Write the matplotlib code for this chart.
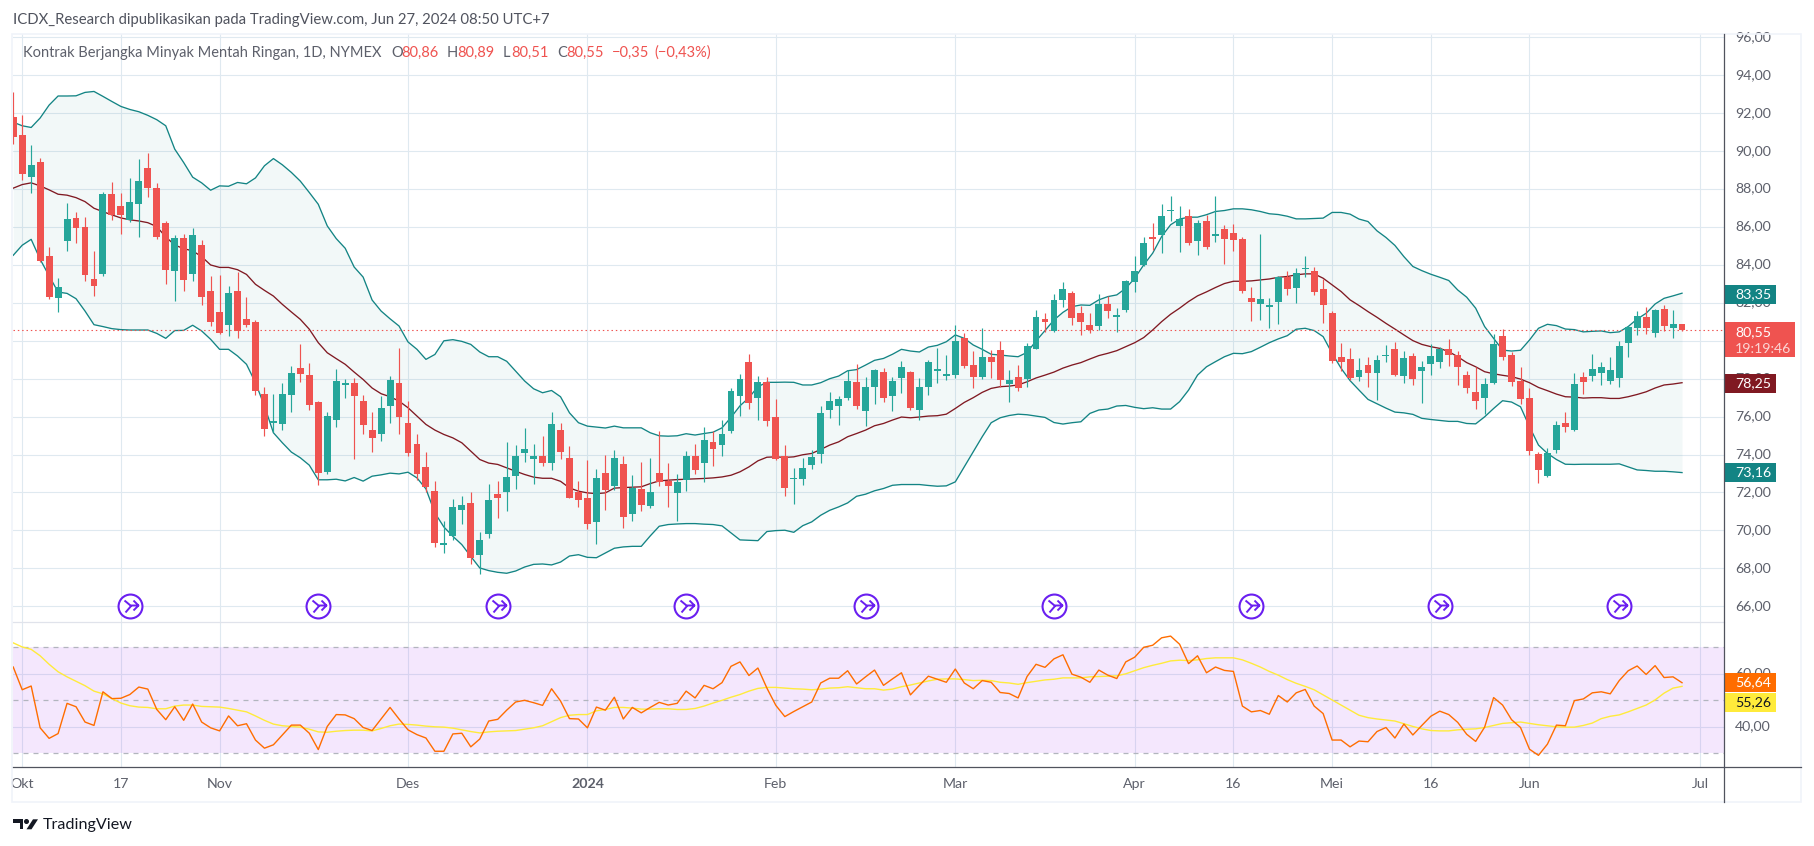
"""Light crude daily chart with Bollinger bands and RSI, TradingView look."""

import matplotlib
matplotlib.use("Agg")  # headless rendering
import matplotlib.pyplot as plt
import numpy as np
from matplotlib.patches import Polygon, Rectangle
from matplotlib.path import Path
from matplotlib.transforms import ScaledTranslation

W, H = 1814, 846
FONT = "Lato"

# ---------------------------------------------------------------------------
# Data, first bar is the one just before Okt
# ---------------------------------------------------------------------------

opens = [
    91.8, 90.85, 88.65, 89.42, 84.46, 82.26, 85.27, 86.46, 85.99, 83.24,
    83.52, 87.73, 87.1, 86.36, 87.2, 89.1, 88.05, 86.2, 83.66, 85.41,
    83.5, 85.04, 82.61, 81.5, 80.82, 82.61, 81.13, 80.98, 77.17, 75.66,
    75.59, 77.14, 78.55, 78.18, 76.75, 73.1, 75.8, 77.65, 77.8, 76.8,
    75.32, 75.06, 76.54, 77.75, 75.64, 74.58, 73.32, 72.1, 69.25, 69.73,
    71.1, 71.47, 68.72, 69.83, 71.94, 72.0, 72.89, 74.06, 73.79, 73.95,
    73.53, 75.32, 73.84, 72.0, 71.73, 70.46, 73.02, 72.33, 73.49, 70.85,
    72.17, 71.27, 73.02, 72.61, 71.96, 72.65, 73.92, 73.55, 74.66, 74.5,
    75.24, 77.09, 78.88, 76.98, 77.82, 75.98, 73.92, 72.7, 72.7, 73.44,
    74.02, 76.35, 76.56, 76.98, 77.82, 76.29, 77.56, 78.35, 77.09, 78.04,
    78.35, 76.35, 77.56, 78.41, 78.14, 78.19, 80.15, 78.72, 78.09, 79.14,
    79.51, 77.72, 78.09, 77.98, 79.57, 81.15, 80.52, 82.16, 82.53, 81.47,
    80.84, 80.78, 81.94, 81.27, 81.63, 83.11, 84.0, 85.45, 85.59, 86.86,
    86.06, 86.59, 85.27, 86.33, 85.54, 85.91, 85.69, 85.38, 82.26, 81.94,
    81.79, 82.05, 83.37, 82.79, 83.78, 83.69, 82.74, 81.47, 79.14, 79.04,
    78.09, 78.72, 78.3, 79.2, 79.57, 78.14, 79.2, 78.41, 78.78, 78.88,
    79.57, 79.25, 78.19, 77.3, 76.98, 77.77, 80.25, 79.25, 77.88, 76.98,
    74.02, 72.86, 74.23, 75.66, 75.29, 78.09, 78.14, 78.3, 77.88, 78.04,
    79.88, 80.68, 81.26, 80.41, 81.68, 80.68, 80.86,
]
closes = [
    90.76, 88.81, 89.26, 84.21, 82.31, 82.82, 86.41, 85.95, 83.47, 82.89,
    87.73, 86.62, 86.62, 87.31, 88.42, 88.05, 85.46, 83.72, 85.41, 83.19,
    85.57, 82.31, 80.99, 80.39, 82.5, 80.5, 80.82, 77.35, 75.34, 75.75,
    77.17, 78.28, 78.23, 76.64, 73.05, 76.06, 77.86, 77.8, 77.07, 75.54,
    74.85, 76.43, 77.91, 75.96, 74.06, 73.0, 72.31, 69.36, 69.36, 71.26,
    71.36, 68.56, 69.51, 71.63, 71.73, 72.84, 73.95, 74.27, 73.9, 73.53,
    75.59, 74.11, 71.73, 71.63, 70.36, 72.74, 72.12, 73.81, 70.69, 72.23,
    71.33, 72.01, 72.56, 72.33, 72.54, 73.92, 73.18, 74.76, 74.29, 75.08,
    77.35, 77.98, 76.72, 77.82, 75.76, 73.76, 72.23, 72.78, 73.28, 73.86,
    76.19, 76.82, 76.93, 77.88, 76.56, 77.56, 78.46, 76.98, 77.88, 78.62,
    76.45, 77.56, 78.88, 78.51, 78.25, 79.99, 78.67, 78.09, 79.14, 78.88,
    77.93, 77.93, 77.51, 79.73, 81.26, 80.99, 82.16, 82.74, 81.2, 81.0,
    80.57, 81.94, 81.57, 81.36, 83.16, 83.69, 85.17, 85.36, 86.59, 86.91,
    86.43, 85.17, 86.22, 84.95, 85.64, 85.38, 85.32, 82.63, 82.05, 82.21,
    81.89, 83.37, 82.74, 83.58, 83.85, 82.58, 81.89, 78.93, 78.88, 78.04,
    78.46, 78.3, 78.99, 79.27, 78.19, 79.09, 77.98, 78.62, 79.2, 79.57,
    79.25, 78.62, 77.51, 76.82, 77.72, 79.83, 79.14, 77.82, 76.93, 74.18,
    73.18, 74.07, 75.55, 75.45, 77.72, 77.82, 78.51, 78.62, 78.46, 79.73,
    80.73, 81.31, 80.68, 81.63, 80.78, 80.89, 80.55,
]
highs = [
    93.12, 91.9, 90.32, 89.63, 84.93, 83.29, 87.26, 86.78, 86.52, 84.76,
    87.84, 88.36, 87.78, 88.58, 89.58, 89.9, 88.31, 86.3, 85.57, 85.62,
    85.93, 85.3, 83.4, 83.45, 82.87, 83.61, 82.29, 81.08, 77.54, 77.17,
    77.75, 78.65, 79.81, 78.81, 76.8, 76.22, 78.49, 77.96, 78.02, 77.12,
    76.27, 77.07, 78.12, 79.6, 76.8, 75.06, 74.16, 72.63, 70.52, 71.68,
    71.84, 72.0, 69.94, 72.47, 72.58, 74.64, 74.48, 75.38, 74.58, 75.0,
    76.22, 75.69, 74.43, 72.63, 73.69, 73.26, 73.97, 74.23, 73.92, 72.91,
    73.6, 73.81, 75.24, 73.55, 72.97, 74.18, 74.58, 75.45, 75.24, 75.82,
    77.51, 78.25, 79.3, 78.14, 78.09, 76.93, 74.48, 73.28, 73.81, 74.23,
    76.56, 77.3, 77.09, 78.46, 78.78, 78.09, 78.51, 78.56, 78.09, 78.93,
    78.41, 78.04, 78.99, 79.62, 79.25, 80.84, 80.41, 79.46, 80.68, 79.51,
    79.99, 78.46, 78.72, 79.88, 81.63, 81.47, 82.47, 83.11, 82.63, 81.84,
    81.47, 82.47, 82.37, 81.73, 83.21, 84.48, 85.48, 86.22, 87.23, 87.65,
    87.12, 86.96, 86.38, 86.65, 87.65, 86.12, 86.17, 85.48, 82.84, 85.64,
    82.26, 83.42, 83.69, 83.85, 84.48, 83.9, 83.26, 81.57, 79.88, 79.62,
    79.09, 79.14, 79.25, 79.78, 79.94, 79.46, 79.36, 78.93, 79.83, 79.67,
    80.1, 79.46, 78.41, 78.62, 78.04, 80.36, 80.62, 79.41, 78.62, 77.51,
    74.13, 74.34, 75.76, 76.24, 78.3, 78.35, 79.3, 78.88, 79.14, 79.99,
    80.78, 81.57, 81.79, 81.68, 81.89, 81.63, 80.89,
]
lows = [
    90.37, 88.49, 87.8, 84.15, 82.2, 81.52, 84.74, 85.16, 83.15, 82.36,
    83.42, 86.36, 85.62, 86.25, 85.46, 87.57, 85.35, 82.98, 82.08, 82.61,
    83.14, 81.88, 80.78, 80.34, 80.24, 80.13, 80.71, 77.14, 74.97, 75.18,
    75.32, 76.22, 77.81, 76.33, 72.42, 72.97, 75.43, 76.96, 73.79, 75.11,
    74.11, 74.69, 75.69, 75.06, 73.95, 72.68, 72.05, 69.14, 68.83, 69.51,
    70.36, 68.25, 67.72, 69.62, 70.68, 71.0, 72.16, 73.63, 72.47, 73.42,
    73.16, 73.79, 71.7, 71.26, 70.1, 69.3, 71.06, 72.12, 70.11, 70.48,
    71.01, 71.17, 72.33, 71.22, 70.48, 72.07, 72.97, 72.54, 73.39, 73.92,
    75.13, 76.03, 76.4, 75.82, 75.5, 73.7, 71.8, 71.38, 72.38, 73.23,
    73.55, 75.92, 75.55, 76.87, 76.4, 75.5, 76.66, 76.77, 76.29, 77.24,
    76.35, 75.82, 77.14, 77.77, 77.93, 78.04, 78.56, 77.51, 77.98, 78.04,
    77.56, 76.77, 77.35, 77.56, 79.57, 80.47, 80.47, 81.79, 80.84, 80.31,
    80.41, 80.57, 81.2, 80.47, 81.52, 82.58, 83.95, 84.8, 84.64, 86.33,
    84.69, 85.06, 84.53, 84.85, 85.22, 84.06, 84.74, 82.53, 81.05, 81.1,
    80.68, 80.89, 82.42, 82.0, 83.37, 82.42, 80.94, 78.83, 78.41, 77.93,
    77.88, 77.56, 76.87, 78.88, 78.14, 77.77, 77.67, 76.72, 78.19, 78.56,
    78.67, 77.67, 77.24, 76.4, 76.13, 77.72, 78.99, 77.61, 76.66, 73.97,
    72.49, 72.81, 74.07, 75.18, 75.24, 77.19, 77.88, 77.67, 77.72, 77.56,
    79.14, 80.31, 80.36, 80.2, 80.52, 80.15, 80.51,
]
bb_upper = [
    91.53, 91.34, 91.25, 91.75, 92.43, 92.91, 92.91, 92.92, 93.1, 93.15,
    92.89, 92.62, 92.36, 92.2, 92.08, 91.89, 91.66, 91.34, 90.11, 89.4,
    88.63, 88.33, 87.94, 88.17, 88.15, 88.35, 88.28, 88.59, 89.23, 89.61,
    89.28, 88.88, 88.42, 87.82, 87.2, 86.06, 85.39, 84.88, 83.89, 83.36,
    82.15, 81.57, 81.16, 80.78, 79.94, 79.55, 79.02, 79.28, 80.0, 80.06,
    79.97, 79.81, 79.41, 79.16, 79.16, 78.92, 78.4, 77.88, 77.47, 77.26,
    77.38, 77.05, 76.2, 75.68, 75.5, 75.45, 75.4, 75.5, 75.41, 75.41,
    75.41, 75.15, 74.99, 74.97, 74.99, 75.1, 75.03, 75.11, 75.18, 75.41,
    75.96, 76.57, 77.0, 77.58, 77.81, 77.81, 77.82, 77.81, 77.67, 77.67,
    77.79, 78.0, 78.14, 78.42, 78.48, 78.72, 78.97, 79.07, 79.29, 79.55,
    79.46, 79.41, 79.67, 79.76, 79.95, 80.31, 80.13, 79.78, 79.55, 79.29,
    79.25, 79.2, 79.16, 79.39, 79.99, 80.54, 81.1, 81.5, 81.8, 81.89,
    81.87, 82.16, 82.33, 82.42, 82.77, 83.3, 84.0, 84.62, 85.5, 86.12,
    86.42, 86.52, 86.52, 86.65, 86.82, 86.87, 86.96, 86.96, 86.91, 86.82,
    86.7, 86.66, 86.57, 86.43, 86.43, 86.45, 86.47, 86.77, 86.77, 86.68,
    86.42, 86.29, 85.8, 85.45, 85.03, 84.44, 83.92, 83.7, 83.51, 83.35,
    83.18, 82.68, 82.3, 81.72, 80.75, 80.13, 79.51, 79.46, 79.5, 80.04,
    80.66, 80.87, 80.8, 80.62, 80.59, 80.47, 80.5, 80.52, 80.43, 80.47,
    80.75, 81.15, 81.45, 81.94, 82.24, 82.37, 82.51,
]
bb_basis = [
    88.05, 88.24, 88.33, 88.17, 87.96, 87.73, 87.68, 87.55, 87.34, 86.99,
    86.81, 86.64, 86.48, 86.38, 86.32, 86.23, 86.02, 85.48, 85.05, 84.86,
    84.74, 84.44, 84.0, 83.87, 83.87, 83.75, 83.5, 82.98, 82.66, 82.36,
    81.92, 81.52, 81.13, 80.61, 79.9, 79.37, 79.06, 78.76, 78.35, 77.96,
    77.51, 77.21, 77.05, 76.82, 76.47, 76.03, 75.59, 75.29, 75.06, 74.88,
    74.62, 74.18, 73.74, 73.55, 73.48, 73.3, 73.12, 72.95, 72.81, 72.75,
    72.75, 72.59, 72.24, 72.07, 71.98, 71.94, 71.98, 72.23, 72.26, 72.28,
    72.3, 72.47, 72.61, 72.65, 72.68, 72.7, 72.72, 72.74, 72.77, 72.82,
    72.91, 73.09, 73.35, 73.67, 73.86, 73.88, 73.85, 73.88, 73.99, 74.06,
    74.27, 74.5, 74.67, 74.94, 75.11, 75.29, 75.52, 75.64, 75.82, 75.98,
    75.94, 75.98, 76.03, 76.05, 76.13, 76.43, 76.75, 77.0, 77.28, 77.49,
    77.58, 77.61, 77.67, 77.84, 78.04, 78.19, 78.35, 78.56, 78.72, 78.85,
    79.04, 79.22, 79.34, 79.48, 79.69, 79.9, 80.17, 80.57, 81.01, 81.4,
    81.72, 82.07, 82.37, 82.58, 82.81, 83.02, 83.14, 83.14, 83.16, 83.21,
    83.26, 83.35, 83.39, 83.48, 83.53, 83.53, 83.3, 82.95, 82.6, 82.16,
    81.86, 81.54, 81.24, 80.92, 80.62, 80.31, 80.01, 79.81, 79.69, 79.6,
    79.43, 79.16, 78.85, 78.63, 78.37, 78.26, 78.18, 78.11, 77.98, 77.79,
    77.54, 77.37, 77.19, 77.05, 77.03, 76.98, 77.0, 77.0, 76.96, 76.96,
    77.05, 77.17, 77.31, 77.51, 77.67, 77.72, 77.79,
]
bb_lower = [
    84.51, 85.04, 85.35, 84.3, 83.42, 82.57, 82.5, 82.22, 81.57, 80.85,
    80.75, 80.64, 80.59, 80.57, 80.57, 80.57, 80.39, 80.13, 80.54, 80.55,
    80.82, 80.52, 80.08, 79.55, 79.55, 79.2, 78.76, 77.79, 76.56, 75.15,
    74.62, 74.13, 73.83, 73.44, 72.67, 72.67, 72.7, 72.61, 72.79, 72.6,
    72.86, 72.93, 73.02, 72.98, 73.07, 72.77, 72.19, 70.92, 70.18, 69.69,
    69.25, 68.63, 68.02, 67.88, 67.79, 67.74, 67.86, 68.07, 68.21, 68.23,
    68.18, 68.33, 68.65, 68.72, 68.58, 68.56, 68.81, 69.06, 69.13, 69.16,
    69.16, 69.71, 70.22, 70.31, 70.34, 70.36, 70.36, 70.33, 70.31, 70.24,
    69.87, 69.5, 69.48, 69.46, 69.94, 69.99, 70.01, 69.9, 70.25, 70.45,
    70.8, 71.06, 71.24, 71.45, 71.8, 71.91, 72.09, 72.21, 72.38, 72.42,
    72.42, 72.42, 72.37, 72.33, 72.35, 72.56, 73.35, 74.14, 74.94, 75.68,
    75.94, 76.06, 76.13, 76.1, 76.03, 75.96, 75.69, 75.61, 75.68, 75.73,
    76.17, 76.35, 76.4, 76.56, 76.59, 76.49, 76.42, 76.47, 76.4, 76.4,
    76.79, 77.4, 78.19, 78.63, 78.9, 79.16, 79.34, 79.32, 79.43, 79.66,
    79.9, 80.1, 80.27, 80.61, 80.66, 80.54, 80.22, 79.34, 78.55, 77.9,
    77.4, 76.91, 76.68, 76.45, 76.24, 76.2, 76.12, 75.91, 75.85, 75.8,
    75.75, 75.75, 75.64, 75.62, 75.99, 76.43, 76.84, 76.77, 76.52, 75.47,
    74.5, 74.06, 73.74, 73.49, 73.48, 73.49, 73.49, 73.49, 73.49, 73.51,
    73.35, 73.19, 73.16, 73.12, 73.12, 73.09, 73.05,
]
rsi = [
    62.56, 53.98, 55.39, 39.62, 35.64, 37.44, 48.85, 47.57, 41.8, 40.52,
    53.21, 50.64, 50.77, 52.18, 55.0, 54.23, 46.54, 42.69, 47.57, 42.44,
    48.59, 41.8, 39.62, 38.46, 44.1, 40.39, 41.16, 35.0, 31.93, 33.21,
    36.92, 40.64, 40.64, 37.57, 31.41, 40.13, 44.62, 44.49, 43.08, 39.75,
    38.59, 42.95, 47.31, 42.95, 38.85, 37.05, 35.77, 30.77, 30.77, 37.31,
    37.57, 32.44, 35.39, 42.18, 42.82, 46.28, 49.36, 50.0, 49.1, 48.08,
    54.36, 49.75, 43.08, 42.95, 39.62, 47.44, 46.28, 51.16, 42.95, 47.31,
    45.26, 47.31, 49.23, 48.21, 48.85, 53.46, 50.9, 55.64, 54.36, 56.67,
    62.82, 64.49, 59.36, 62.18, 54.62, 48.08, 43.85, 45.77, 47.57, 49.36,
    56.54, 58.33, 58.33, 61.16, 56.16, 58.85, 61.41, 55.64, 58.08, 60.39,
    52.05, 55.64, 59.1, 57.95, 56.8, 61.8, 56.54, 54.36, 57.44, 56.8,
    52.95, 52.57, 50.9, 58.98, 63.59, 62.44, 65.64, 67.18, 59.87, 58.72,
    56.8, 61.41, 59.49, 58.21, 64.49, 66.28, 70.0, 70.77, 73.59, 74.23,
    71.16, 63.85, 66.8, 60.39, 62.56, 61.28, 60.9, 47.82, 45.64, 46.15,
    44.74, 51.8, 49.36, 52.82, 54.1, 47.82, 45.0, 35.0, 35.0, 32.44,
    34.62, 34.36, 38.21, 39.74, 35.77, 41.03, 36.92, 40.51, 43.98, 45.9,
    44.62, 41.67, 37.18, 34.49, 39.87, 51.03, 48.21, 42.69, 39.74, 31.54,
    29.23, 33.46, 40.64, 40.39, 49.87, 50.51, 52.82, 53.21, 52.44, 57.44,
    61.15, 62.95, 59.75, 63.08, 58.59, 58.85, 56.64,
]
rsi_ma = [
    71.67, 70.13, 69.23, 66.8, 63.59, 60.77, 58.85, 57.18, 55.51, 53.46,
    52.44, 50.64, 48.97, 47.95, 47.44, 47.31, 46.8, 46.8, 47.82, 48.21,
    48.21, 47.69, 47.57, 47.44, 46.92, 46.28, 45.64, 44.1, 42.44, 41.03,
    40.39, 40.13, 39.87, 39.1, 38.08, 37.95, 38.33, 38.59, 38.72, 38.72,
    38.46, 39.36, 40.39, 41.03, 40.9, 40.64, 40.26, 40.0, 39.87, 39.49,
    38.85, 38.21, 37.69, 38.08, 38.33, 38.46, 38.59, 39.1, 39.62, 40.39,
    41.92, 43.46, 44.36, 44.62, 44.62, 46.03, 46.54, 47.31, 47.31, 47.05,
    46.67, 46.67, 46.8, 46.8, 46.54, 46.54, 46.92, 47.82, 48.97, 50.0,
    51.16, 52.18, 53.46, 54.49, 54.87, 54.87, 54.62, 54.36, 54.23, 53.97,
    54.23, 54.62, 54.74, 55.13, 54.74, 54.36, 54.36, 53.85, 54.23, 55.13,
    55.77, 56.54, 57.31, 57.95, 58.08, 58.08, 57.82, 57.44, 57.57, 57.44,
    56.8, 56.54, 56.03, 56.67, 57.18, 57.69, 57.95, 58.46, 58.46, 58.46,
    58.85, 58.98, 59.1, 59.23, 60.0, 61.15, 62.31, 63.21, 63.97, 64.87,
    65.13, 65.0, 65.26, 65.77, 66.03, 66.03, 66.03, 65.26, 63.97, 62.56,
    60.9, 59.49, 57.82, 56.41, 55.26, 53.97, 52.05, 50.13, 48.21, 46.28,
    44.36, 43.46, 42.95, 42.57, 42.18, 41.15, 40.13, 39.23, 38.59, 38.46,
    38.46, 38.85, 39.1, 39.23, 39.74, 40.51, 41.28, 41.54, 41.8, 41.28,
    40.77, 40.39, 40.0, 39.87, 39.87, 40.51, 41.41, 43.08, 43.97, 44.49,
    45.64, 46.93, 48.21, 50.13, 52.7, 54.6, 55.26,
]

time_ticks = [0, 11, 22, 43, 63, 84, 104, 124, 135, 146, 157, 168, 187]
time_labels = ["Okt", "17", "Nov", "Des", "2024", "Feb", "Mar", "Apr", "16",
               "Mei", "16", "Jun", "Jul"]
price_ticks = list(range(66, 98, 2))
rsi_ticks = [40, 60]
rsi_dashed = [30, 50, 70]
signal_bars = [12, 33, 53, 74, 94, 115, 137, 158, 178]
signal_price = 66.0
last_close = 80.55

GREEN = "#26A69A"
RED = "#EF5350"
TEAL = "#138484"
BROWN = "#801922"
ORANGE = "#FF6D00"
YELLOW = "#FFEB3B"
PURPLE = "#6A1FF0"
GRID = "#DFE9F0"
TEXT = "#5D606B"
AXIS = "#50535E"

# pixel layout of the panes
PANE_L, PANE_R = 13, 1724
PRICE_T, PRICE_B, RSI_B = 34, 622, 767


def axes_px(fig, left, top, right, bottom):
    return fig.add_axes([left / W, 1 - bottom / H, (right - left) / W, (bottom - top) / H])


fig = plt.figure(figsize=(W / 100, H / 100), dpi=100, facecolor="white")
ax = axes_px(fig, PANE_L, PRICE_T, PANE_R, PRICE_B)
ax_rsi = axes_px(fig, PANE_L, PRICE_B, PANE_R, RSI_B)
chrome = axes_px(fig, 0, 0, W, H)  # overlay in pixel units for labels and frame
chrome.set_xlim(0, W)
chrome.set_ylim(H, 0)
chrome.axis("off")
chrome.patch.set_alpha(0)
chrome.set_zorder(5)

bars = np.arange(-1, 186)
x_lim = ((PANE_L - 22.2) / 8.972, (PANE_R - 22.2) / 8.972)

for a in (ax, ax_rsi):
    a.set_xlim(*x_lim)
    a.set_xticks(time_ticks)
    for s in a.spines.values():
        s.set_visible(False)
    a.grid(True, axis="both", color=GRID, lw=0.8, zorder=0)
    a.set_axisbelow(True)
    a.yaxis.tick_right()
    a.tick_params(length=0, labelsize=10.2, labelcolor=TEXT, pad=8)

# ---------------------------------------------------------------------------
# Price pane
# ---------------------------------------------------------------------------

ax.set_ylim(65.17, 96.18)
ax.set_yticks(price_ticks, [f"{p},00" for p in price_ticks], family=FONT)
ax.tick_params(labelbottom=False)

ax.fill_between(bars, bb_lower, bb_upper, color=TEAL, alpha=0.05, lw=0, zorder=1)
ax.plot(bars, bb_upper, color=TEAL, lw=0.95, zorder=2)
ax.plot(bars, bb_lower, color=TEAL, lw=0.95, zorder=2)
ax.plot(bars, bb_basis, color=BROWN, lw=0.95, zorder=2)
ax.axhline(last_close, color=RED, lw=0.8, ls=(0, (1.3, 2.6)), zorder=2)

colors = [GREEN if c >= o else RED for o, c in zip(opens, closes)]
ax.vlines(bars, lows, highs, colors=colors, lw=0.85, zorder=3)
ax.bar(bars, np.abs(np.subtract(closes, opens)), bottom=np.minimum(opens, closes),
       width=0.77, color=colors, lw=0, zorder=4)

# signal icons along the bottom of the price pane
arrow_icon = Path(
    [(-6, 6), (0, 1), (8, 1), (3, -4), (8, 1), (3, 6), (-5, -6), (1, 1)],
    [Path.MOVETO, Path.LINETO, Path.LINETO, Path.MOVETO, Path.LINETO, Path.LINETO,
     Path.MOVETO, Path.LINETO],
)
signal_y = [signal_price] * len(signal_bars)
ax.plot(signal_bars, signal_y, ls="", marker="o", ms=17.2, mfc="white", mec=PURPLE, mew=1.5,
        zorder=5, clip_on=False)
ax.plot(signal_bars, signal_y, ls="", marker=arrow_icon, ms=11.5, mfc="none", mec=PURPLE, mew=1.4,
        zorder=6, clip_on=False)

# ---------------------------------------------------------------------------
# RSI pane
# ---------------------------------------------------------------------------

ax_rsi.set_ylim(24.83, 79.55)
ax_rsi.set_yticks(rsi_ticks, [f"{v},00" for v in rsi_ticks], family=FONT)
ax_rsi.set_xticks(time_ticks, time_labels, family=FONT)
ax_rsi.get_xticklabels()[4].set_fontweight("bold")
ax_rsi.axhspan(30, 70, color="#9C27F0", alpha=0.11, lw=0, zorder=1)
for level in rsi_dashed:
    ax_rsi.axhline(level, color="#B2B5BE", lw=0.9, ls=(0, (4, 4)), zorder=2)
ax_rsi.plot(bars, rsi_ma, color=YELLOW, lw=1.0, zorder=3)
ax_rsi.plot(bars, rsi, color=ORANGE, lw=1.0, zorder=4)

# nudge the price scale labels up a little, they sit just above their grid line
nudge = ScaledTranslation(0, 1.5 / 100, fig.dpi_scale_trans)
for a in (ax, ax_rsi):
    for lab in a.get_yticklabels():
        lab.set_transform(lab.get_transform() + nudge)

# ---------------------------------------------------------------------------
# Frame, axis lines, price tags and header text
# ---------------------------------------------------------------------------

# left edge of the frame stays just outside the first, clipped bar
chrome.add_patch(Rectangle((12.2, 34), 1788.8, 768, fc="none", ec="#F0F3FA", lw=1.2))
chrome.plot([PANE_L, PANE_R], [PRICE_B, PRICE_B], color="#E0E3EB", lw=0.9)
chrome.plot([PANE_L, 1801], [RSI_B, RSI_B], color=AXIS, lw=0.9)
chrome.plot([PANE_R, PANE_R], [34, 802], color=AXIS, lw=0.9)


def price_tag(top, bottom, right, color, label, text_color="white"):
    chrome.add_patch(Rectangle((PANE_R, top), right - PANE_R, bottom - top, fc=color, lw=0))
    chrome.text(PANE_R + 11, (top + bottom) / 2, label, color=text_color, family=FONT,
                fontsize=10.2, va="center", ha="left")


price_tag(285, 304, 1776, TEAL, "83,35")
price_tag(374, 393, 1776, BROWN, "78,25")
price_tag(463, 482, 1776, TEAL, "73,16")
price_tag(673, 692, 1776, ORANGE, "56,64")
price_tag(693, 712, 1776, YELLOW, "55,26", "#131722")
chrome.add_patch(Rectangle((PANE_R, 322), 1795 - PANE_R, 35, fc=RED, lw=0))
chrome.text(PANE_R + 11, 332, "80,55", color="white", family=FONT, fontsize=10.2, va="center")
chrome.text(PANE_R + 11, 349, "19:19:46", color="#FBD5D4", family=FONT, fontsize=10.2, va="center")

chrome.text(13, 20, "ICDX_Research dipublikasikan pada TradingView.com, Jun 27, 2024 08:50 UTC+7",
            color="#50535E", family=FONT, fontsize=10.75, va="center")
chrome.text(23, 53, "Kontrak Berjangka Minyak Mentah Ringan, 1D, NYMEX", color=TEXT, family=FONT,
            fontsize=10.55, va="center")
legend_parts = [
    (391, "O", TEXT), (401, "80,86", RED), (447, "H", TEXT), (457, "80,89", RED),
    (503, "L", TEXT), (511, "80,51", RED), (557, "C", TEXT), (566, "80,55", RED),
    (612, "\u22120,35", RED), (654, "(\u22120,43%)", RED),
]
for x_px, part, color in legend_parts:
    chrome.text(x_px, 53, part, color=color, family=FONT, fontsize=10.55, va="center")

# TradingView logo
chrome.add_patch(Polygon([(13, 819.3), (23, 819.3), (23, 829.3), (19.5, 829.3), (19.5, 823), (13, 823)],
                         fc="#131722", lw=0))
chrome.add_patch(Polygon([(33, 819.3), (38, 819.3), (31.5, 829.3), (26.5, 829.3)], fc="#131722", lw=0))
chrome.plot([26], [821.3], marker="o", ms=2.6, color="#131722", ls="")
chrome.text(43, 825, "TradingView", color="#131722", family=FONT, fontsize=11.6, va="center")

fig.savefig("out.png", dpi=100)
